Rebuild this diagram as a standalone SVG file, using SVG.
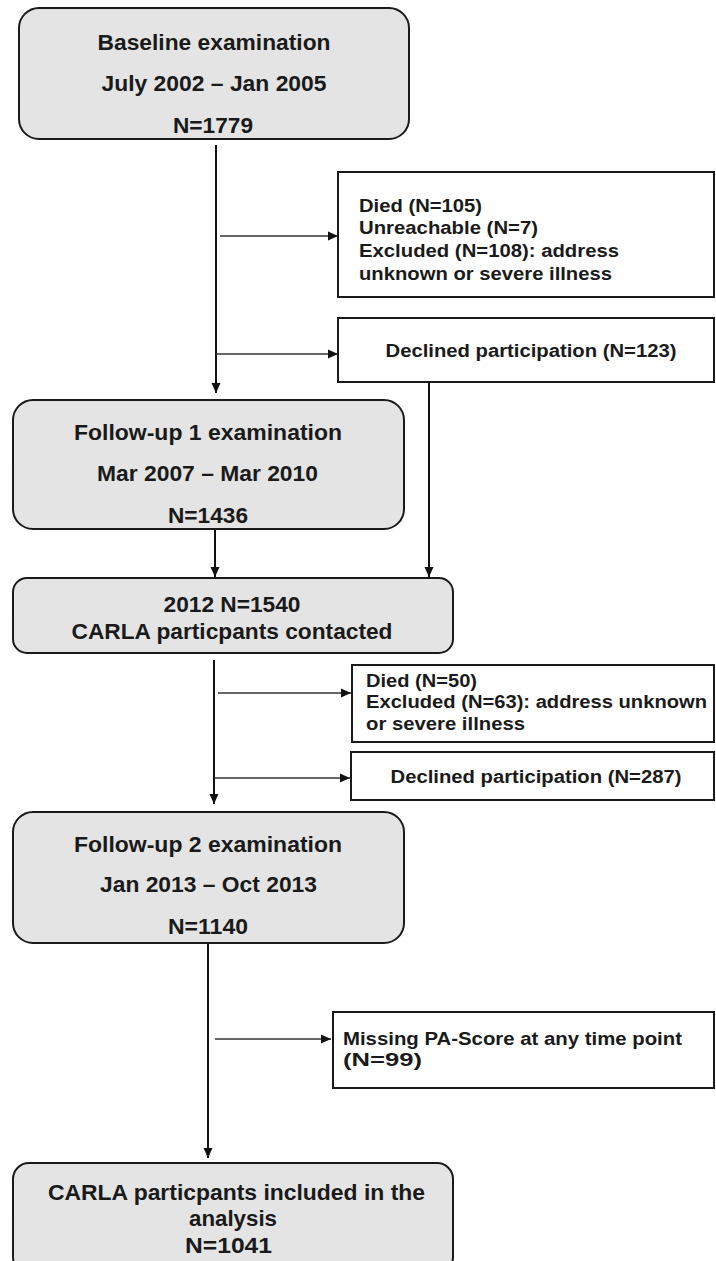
<svg xmlns="http://www.w3.org/2000/svg" width="716" height="1261" viewBox="0 0 716 1261">
<style>
.main{fill:#e4e4e4;stroke:#1a1a1a;stroke-width:2}
.side{fill:#ffffff;stroke:#1a1a1a;stroke-width:2}
.t{font-family:"Liberation Sans",Arial,sans-serif;font-weight:bold;fill:#1a1a1a}
.big{font-size:22px;text-anchor:middle}
.sm{font-size:18px}
.smc{font-size:18px;text-anchor:middle}
.v{stroke:#111;stroke-width:2;fill:none}
.h{stroke:#333;stroke-width:1.4;fill:none}
</style>
<defs>
<marker id="ah" markerUnits="userSpaceOnUse" markerWidth="10" markerHeight="10" refX="10" refY="5" orient="auto" viewBox="0 0 10 10">
<path d="M0,0.5 L10,5 L0,9.5 z" fill="#111"/>
</marker>
</defs>
<g id="connectors">
<line class="v" x1="216" y1="145" x2="216" y2="393" marker-end="url(#ah)"/>
<line class="h" x1="220" y1="236" x2="338" y2="236" marker-end="url(#ah)"/>
<line class="h" x1="216" y1="354" x2="338" y2="354" marker-end="url(#ah)"/>
<line class="v" x1="215" y1="529" x2="215" y2="577" marker-end="url(#ah)"/>
<line class="v" x1="429" y1="382" x2="429" y2="577" marker-end="url(#ah)"/>
<line class="v" x1="214" y1="660" x2="214" y2="804" marker-end="url(#ah)"/>
<line class="h" x1="218" y1="693" x2="351" y2="693" marker-end="url(#ah)"/>
<line class="h" x1="215" y1="778" x2="350" y2="778" marker-end="url(#ah)"/>
<line class="v" x1="208" y1="943" x2="208" y2="1158" marker-end="url(#ah)"/>
<line class="h" x1="215" y1="1039" x2="331" y2="1039" marker-end="url(#ah)"/>
</g>
<g id="baseline">
<rect class="main" x="19" y="8" width="390" height="131" rx="20"/>
<text class="t big" x="214" y="50" textLength="233" lengthAdjust="spacingAndGlyphs">Baseline examination</text>
<text class="t big" x="214" y="91" textLength="225" lengthAdjust="spacingAndGlyphs">July 2002 – Jan 2005</text>
<text class="t big" x="213" y="133" textLength="80" lengthAdjust="spacingAndGlyphs">N=1779</text>
</g>
<g id="excluded1">
<rect class="side" x="338" y="172" width="376" height="125"/>
<text class="t sm" x="359" y="212" textLength="123" lengthAdjust="spacingAndGlyphs">Died (N=105)</text>
<text class="t sm" x="359" y="234" textLength="179" lengthAdjust="spacingAndGlyphs">Unreachable (N=7)</text>
<text class="t sm" x="359" y="257" textLength="260" lengthAdjust="spacingAndGlyphs">Excluded (N=108): address</text>
<text class="t sm" x="359" y="280" textLength="253" lengthAdjust="spacingAndGlyphs">unknown or severe illness</text>
</g>
<g id="declined1">
<rect class="side" x="338" y="318" width="376" height="64"/>
<text class="t smc" x="531" y="357" textLength="291" lengthAdjust="spacingAndGlyphs">Declined participation (N=123)</text>
</g>
<g id="followup1">
<rect class="main" x="13" y="400" width="391" height="129" rx="20"/>
<text class="t big" x="208" y="440" textLength="268" lengthAdjust="spacingAndGlyphs">Follow-up 1 examination</text>
<text class="t big" x="207.5" y="481" textLength="221" lengthAdjust="spacingAndGlyphs">Mar 2007 – Mar 2010</text>
<text class="t big" x="208" y="523" textLength="80" lengthAdjust="spacingAndGlyphs">N=1436</text>
</g>
<g id="contacted">
<rect class="main" x="13" y="578" width="440" height="75" rx="14"/>
<text class="t big" x="232" y="612" textLength="137" lengthAdjust="spacingAndGlyphs">2012 N=1540</text>
<text class="t big" x="232" y="639" textLength="321" lengthAdjust="spacingAndGlyphs">CARLA particpants contacted</text>
</g>
<g id="excluded2">
<rect class="side" x="352" y="665" width="362" height="77"/>
<text class="t sm" x="366" y="687" textLength="111" lengthAdjust="spacingAndGlyphs">Died (N=50)</text>
<text class="t sm" x="366" y="708" textLength="341" lengthAdjust="spacingAndGlyphs">Excluded (N=63): address unknown</text>
<text class="t sm" x="366" y="730" textLength="159" lengthAdjust="spacingAndGlyphs">or severe illness</text>
</g>
<g id="declined2">
<rect class="side" x="351" y="752" width="363" height="48"/>
<text class="t smc" x="536" y="783" textLength="291" lengthAdjust="spacingAndGlyphs">Declined participation (N=287)</text>
</g>
<g id="followup2">
<rect class="main" x="13" y="812" width="391" height="131" rx="20"/>
<text class="t big" x="208" y="852" textLength="268" lengthAdjust="spacingAndGlyphs">Follow-up 2 examination</text>
<text class="t big" x="208.5" y="892" textLength="217" lengthAdjust="spacingAndGlyphs">Jan 2013 – Oct 2013</text>
<text class="t big" x="208" y="934" textLength="80" lengthAdjust="spacingAndGlyphs">N=1140</text>
</g>
<g id="missing">
<rect class="side" x="333" y="1012" width="381" height="76"/>
<text class="t sm" x="343" y="1045" textLength="339" lengthAdjust="spacingAndGlyphs">Missing PA-Score at any time point</text>
<text class="t sm" x="343" y="1066" textLength="79" lengthAdjust="spacingAndGlyphs">(N=99)</text>
</g>
<g id="included">
<rect class="main" x="13" y="1163" width="440" height="110" rx="16"/>
<text class="t big" x="236.5" y="1200" textLength="377" lengthAdjust="spacingAndGlyphs">CARLA particpants included in the</text>
<text class="t big" x="233" y="1226" textLength="88" lengthAdjust="spacingAndGlyphs">analysis</text>
<text class="t big" x="228.5" y="1253" textLength="87" lengthAdjust="spacingAndGlyphs">N=1041</text>
</g>
</svg>
